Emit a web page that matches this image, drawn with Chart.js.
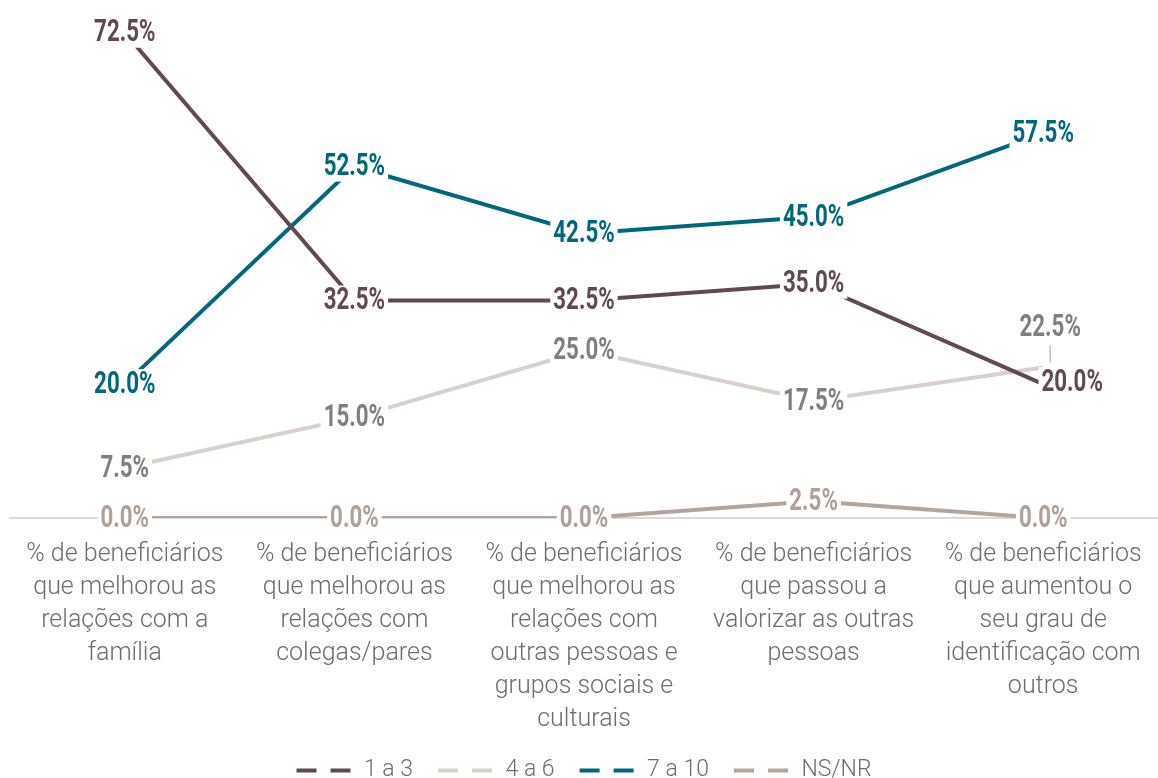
<!DOCTYPE html>
<html>
<head>
<meta charset="utf-8">
<script src="https://cdn.jsdelivr.net/npm/chart.js@4.4.1/dist/chart.umd.min.js"></script>
<style>
  html, body { margin: 0; padding: 0; background: #fff; }
  #wrap { width: 1158px; height: 778px; }
</style>
</head>
<body>
<div id="wrap"><canvas id="chart"></canvas></div>
<script>
// categories (one array of lines per category label)
const categories = [
  ['% de beneficiários', 'que melhorou as', 'relações com a', 'família'],
  ['% de beneficiários', 'que melhorou as', 'relações com', 'colegas/pares'],
  ['% de beneficiários', 'que melhorou as', 'relações com', 'outras pessoas e', 'grupos sociais e', 'culturais'],
  ['% de beneficiários', 'que passou a', 'valorizar as outras', 'pessoas'],
  ['% de beneficiários', 'que aumentou o', 'seu grau de', 'identificação com', 'outros']
];
const seriesNames = ['1 a 3', '4 a 6', '7 a 10', 'NS/NR'];
const values1a3  = [72.5, 32.5, 32.5, 35.0, 20.0];
const values4a6  = [7.5, 15.0, 25.0, 17.5, 22.5];
const values7a10 = [20.0, 52.5, 42.5, 45.0, 57.5];
const valuesNsNr = [0.0, 0.0, 0.0, 2.5, 0.0];

const lineColors  = ['#614852', '#d8d0ca', '#00687a', '#b4a59c'];
const labelColors = ['#614852', '#7f7f7f', '#00687a', '#b0a097'];

// a couple of labels are moved away from their point in the original
const labelShift = { '0-4': [29, -2], '1-4': [7, -40] };

const labelFont = 'bold 31px "Roboto", "DejaVu Sans", sans-serif';
const labelSquash = 0.72;   // condensed look
const textFont = '"Roboto", "DejaVu Sans", sans-serif';

const dataLabels = {
  id: 'dataLabels',
  afterDatasetsDraw(chart) {
    const ctx = chart.ctx;
    ctx.save();
    ctx.font = labelFont;
    ctx.textAlign = 'center';
    ctx.textBaseline = 'middle';
    chart.data.datasets.forEach((ds, di) => {
      const meta = chart.getDatasetMeta(di);
      meta.data.forEach((pt, i) => {
        const txt = ds.data[i].toFixed(1) + '%';
        const shift = labelShift[di + '-' + i] || [0, 0];
        const x = pt.x + shift[0];
        const y = pt.y + shift[1];
        const w = ctx.measureText(txt).width * labelSquash;
        ctx.fillStyle = '#fff';
        ctx.fillRect(x - w / 2 - 3, y - 15, w + 6, 30);
        if (shift[1] < -20) {
          ctx.strokeStyle = '#bfbfbf';
          ctx.lineWidth = 1.5;
          ctx.beginPath();
          ctx.moveTo(x, y + 18);
          ctx.lineTo(x, pt.y - 5);
          ctx.stroke();
        }
        ctx.save();
        ctx.translate(x, y + 1);
        ctx.scale(labelSquash, 1);
        ctx.fillStyle = labelColors[di];
        ctx.fillText(txt, 0, 0);
        ctx.restore();
      });
    });
    ctx.restore();
  }
};

const allValues = [values1a3, values4a6, values7a10, valuesNsNr];

new Chart(document.getElementById('chart'), {
  type: 'line',
  data: {
    labels: categories,
    datasets: allValues.map((vals, k) => ({
      label: seriesNames[k],
      data: vals,
      borderColor: lineColors[k],
      backgroundColor: lineColors[k],
      borderWidth: 4,
      pointRadius: 0,
      tension: 0
    }))
  },
  options: {
    responsive: true,
    maintainAspectRatio: false,
    animation: false,
    layout: { padding: { top: 16, left: 10, right: 0, bottom: -14 } },
    scales: {
      x: {
        offset: true,
        grid: { display: false },
        border: { display: true, color: '#d9d9d9', width: 2 },
        afterFit(scale) { scale.height = 216; },
        ticks: {
          color: '#6d6d6d',
          padding: 12,
          maxRotation: 0,
          autoSkip: false,
          font: { family: textFont, size: 25, weight: 300, lineHeight: 1.32 }
        }
      },
      y: {
        display: false,
        min: 0,
        max: 75
      }
    },
    plugins: {
      tooltip: { enabled: false },
      legend: {
        position: 'bottom',
        labels: {
          usePointStyle: true,
          pointStyle: 'line',
          pointStyleWidth: 56,
          boxWidth: 56,
          padding: 25,
          color: '#6d6d6d',
          font: { family: textFont, size: 23, weight: 300 },
          generateLabels(chart) {
            return chart.data.datasets.map((ds, k) => ({
              text: ds.label,
              strokeStyle: lineColors[k],
              fillStyle: lineColors[k],
              lineWidth: 4,
              lineDash: [20, 14],
              pointStyle: 'line',
              fontColor: '#6d6d6d',
              datasetIndex: k
            }));
          }
        }
      }
    }
  },
  plugins: [dataLabels]
});
</script>
</body>
</html>
